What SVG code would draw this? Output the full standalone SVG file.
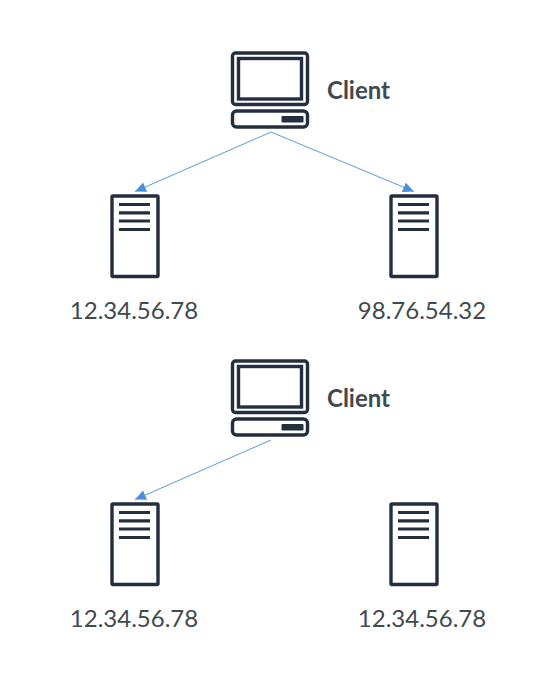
<svg xmlns="http://www.w3.org/2000/svg" width="548" height="673" viewBox="0 0 548 673">
<style>
.o{fill:none;stroke:#232f3e;stroke-width:3.4}
.t{stroke:#232f3e;stroke-width:3.2;fill:none}
.f{fill:#232f3e}
.l{fill:#414a4f;font-family:Lato,"Open Sans",sans-serif;font-size:24px;text-anchor:middle}
.c{fill:#414a4f;font-family:Lato,"Open Sans",sans-serif;font-size:24px;font-weight:700}
.e{stroke:#5b9bd5;stroke-width:1;fill:none;marker-end:url(#a)}
</style>
<defs>
<marker id="a" markerUnits="userSpaceOnUse" markerWidth="13" markerHeight="11" refX="11" refY="5" orient="auto"><path d="M0 0L11 5L0 10Z" fill="#4a90d9"/></marker>
<g id="client">
<rect class="o" x="232.500" y="53" width="75" height="51.500" rx="3"/>
<rect class="o" x="238.500" y="58.500" width="63" height="40.500"/>
<rect class="o" x="232.500" y="111" width="75" height="16" rx="4"/>
<rect class="f" x="281.500" y="116" width="22" height="6.500" rx="1"/>
</g>
<g id="server">
<rect class="o" x="112" y="196" width="46" height="80.500" rx="1"/>
<path class="t" d="M119 204.500H150M119 212.800H150M119 221H150M119 229.500H150"/>
</g>
</defs>
<g id="connectors">
<path class="e" d="M271 132L135 191.500"/>
<path class="e" d="M271 132L414 191.500"/>
<path class="e" d="M271 440L135 499.500"/>
</g>
<g id="client-top"><use href="#client"/><text class="c" x="327" y="99">Client</text></g>
<g id="server-top-left"><use href="#server"/><text class="l" x="134" y="319">12.34.56.78</text></g>
<g id="server-top-right"><use href="#server" x="279"/><text class="l" x="422" y="319">98.76.54.32</text></g>
<g id="client-bottom"><use href="#client" y="308"/><text class="c" x="327" y="407">Client</text></g>
<g id="server-bottom-left"><use href="#server" y="308"/><text class="l" x="134" y="627">12.34.56.78</text></g>
<g id="server-bottom-right"><use href="#server" x="279" y="308"/><text class="l" x="422" y="627">12.34.56.78</text></g>
</svg>
